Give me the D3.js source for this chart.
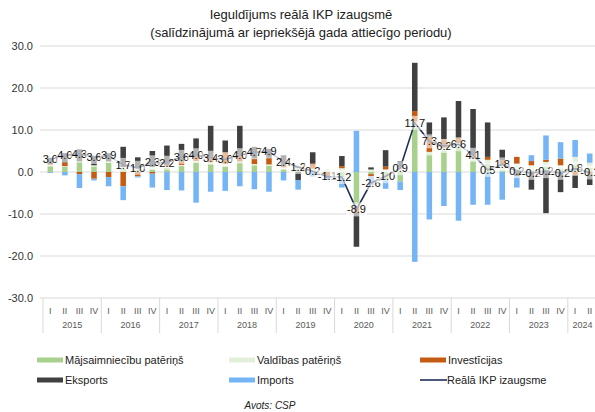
<!DOCTYPE html>
<meta charset="utf-8">
<style>
body { margin: 0; background: #fff; }
svg { font-family: "Liberation Sans", Arial, sans-serif; }
.grid line { stroke: #d9d9d9; stroke-width: 1px; }
.ylab { font-size: 11px; fill: #333; }
.qlab, .yearlab { font-size: 9px; fill: #595959; }
.gdp-label { font-size: 11px; fill: #111; }
.legend text { font-size: 11px; fill: #222; }
</style>
<body>
<script src="https://d3js.org/d3.v7.min.js"></script>
<script>

// data (contributions, percentage points)
var years = ["2015", "2016", "2017", "2018", "2019", "2020", "2021", "2022", "2023", "2024"];
var quarterNames = ["I", "II", "III", "IV"];

var household = [1.4, 1.2, 2.3, 1.3,  2.2, 0.8, 0.6, 0.6,  1.0, 1.4, 2.2, 2.0,  1.3, 2.1, 1.6, 1.5,
                 0.6, 0.6, 0.3, 0.2, -1.3, -7.8, -0.5, -2.0, -2.3, 10.6, 4.0, 5.0,  6.0, 2.8, 2.0, 0.6,
                 0.8, 0.6, 1.2, 0.8,  1.8, 1.0];
var government = [0.3, 0.2, 0.3, 0.3,  0.3, 0.4, 0.3, 0.6,  0.4, 0.3, 0.4, 0.3,  0.6, 0.4, 0.3, 0.3,
                  0.5, 0.3, 0.5, 0.4,  0.9, -0.3, 0.6, 0.5,  0.8, 1.4, 0.8, 0.8,  0.9, 0.5, 0.9, 1.0,
                  1.2, 1.0, 1.2, 0.8,  1.8, 1.2];
var investment = [0.2, 0.9, -0.5, -1.6, -1.2, -3.4, -1.0, -0.4,  0.3, 0.8, 1.4, 1.2,  2.8, 1.8, 1.3, 1.6,
                  0.4, 0.4, 1.2, -0.8,  0.5, -1.6, -0.6, 0.8,  0.3, 2.5, 3.6, 2.0,  1.2, 0.7, 0.7, 1.2,
                  1.6, 1.0, 0.5, 1.6, -0.8, -0.6];
var exportsC = [1.5, 2.2, 2.8, 2.0,  2.0, 4.8, 2.6, 3.8,  4.6, 4.2, 4.0, 7.5,  2.8, 6.7, 2.8, 2.1,
                2.5, -1.9, 2.7, -0.6,  2.4, -8.1, 0.5, 3.9,  1.5, 11.5, 3.4, 5.2,  8.8, 11.0, 8.2, 2.5,
                -1.0, -4.2, -9.8, -4.8, -3.0, -2.5];
var importsC = [-0.2, -0.8, -3.3, -0.4, -2.2, -3.3, -0.3, -3.3, -4.3, -4.4, -7.3, -4.7, -4.5, -3.4, -4.1, -4.7,
                -2.0, -2.3, -1.1, -0.5, -2.4, 9.8, -2.0, -2.0, -2.0, -21.4, -11.3, -8.1, -11.6, -7.8, -7.8, -6.6,
                -2.7, 1.4, 5.8, 3.9,  4.0, 2.2];
var gdpGrowth = [3.0, 4.0, 4.3, 3.6,  3.9, 1.7, 1.0, 2.3,  2.2, 3.6, 4.0, 3.4,  3.0, 4.0, 4.7, 4.9,
                 2.4, 1.2, 0.2, -1.1, -1.2, -8.9, -2.6, -1.0,  0.9, 11.7, 7.3, 6.2,  6.6, 4.1, 0.5, 1.8,
                 0.2, -0.2, 0.2, -0.2,  0.8, -0.1];

var seriesKeys = ["household", "government", "investment", "exports", "imports"];
var seriesNames = ["Mājsaimniecību patēriņš", "Valdības patēriņš", "Investīcijas", "Eksports", "Imports"];
var seriesColors = ["#a9d18e", "#e2efda", "#c55a11", "#404040", "#75b5f5"];
var lineName = "Reālā IKP izaugsme";
var lineColor = "#1f2d5c";
var yTicks = [30, 20, 10, 0, -10, -20, -30];

// build the period keys and the table d3.stack wants
var periods = [];
years.forEach(function(y) {
  quarterNames.forEach(function(q) {
    if (periods.length < gdpGrowth.length) periods.push({ year: y, q: q, key: y + "-" + q });
  });
});
var table = periods.map(function(p, i) {
  return { key: p.key, household: household[i], government: government[i],
           investment: investment[i], exports: exportsC[i], imports: importsC[i] };
});

var W = 595, H = 412;
var svg = d3.select("body").append("svg").attr("width", W).attr("height", H);

var x = d3.scaleBand().domain(periods.map(function(p) { return p.key; }))
    .range([43, 597]).paddingInner(0.62).paddingOuter(0.31);
var y = d3.scaleLinear().domain([-30, 30]).range([298, 46]);
var color = d3.scaleOrdinal().domain(seriesKeys).range(seriesColors);

// title
var title = svg.append("text").attr("text-anchor", "middle").style("font-size", "13px").style("fill", "#222");
title.append("tspan").attr("x", 301).attr("y", 19).text("Ieguldījums reālā IKP izaugsmē");
title.append("tspan").attr("x", 301).attr("y", 37).text("(salīdzinājumā ar iepriekšējā gada attiecīgo periodu)");

// gridlines + y labels
svg.append("g").attr("class", "grid").selectAll("line").data(yTicks).join("line")
    .attr("x1", 40).attr("x2", W).attr("y1", function(d) { return y(d); }).attr("y2", function(d) { return y(d); });
svg.append("g").selectAll("text").data(yTicks).join("text")
    .attr("class", "ylab").attr("x", 33).attr("y", function(d) { return y(d); })
    .attr("dy", "0.35em").attr("text-anchor", "end").text(function(d) { return d.toFixed(1); });

// stacked bars
var stacked = d3.stack().keys(seriesKeys).offset(d3.stackOffsetDiverging)(table);
svg.append("g").selectAll("g").data(stacked).join("g")
    .attr("fill", function(s) { return color(s.key); })
  .selectAll("rect").data(function(s) { return s; }).join("rect")
    .attr("x", function(d) { return x(d.data.key); })
    .attr("width", x.bandwidth())
    .attr("y", function(d) { return y(Math.max(d[0], d[1])); })
    .attr("height", function(d) { return Math.abs(y(d[0]) - y(d[1])); });

// category axis: quarters, years, separators
var half = (x.step() - x.bandwidth()) / 2;
var axisG = svg.append("g");
axisG.selectAll("text.qlab").data(periods).join("text")
    .attr("class", "qlab").attr("text-anchor", "middle")
    .attr("x", function(p) { return x(p.key) + x.bandwidth() / 2; })
    .attr("y", 314).text(function(p) { return p.q; });
var yearGroups = d3.groups(periods, function(p) { return p.year; });
axisG.selectAll("text.yearlab").data(yearGroups).join("text")
    .attr("class", "yearlab").attr("text-anchor", "middle")
    .attr("x", function(g) {
      var a = x(g[1][0].key) - half, b = x(g[1][g[1].length - 1].key) + x.bandwidth() + half;
      return (a + b) / 2;
    })
    .attr("y", 328).text(function(g) { return g[0]; });
axisG.selectAll("line").data(yearGroups).join("line")
    .attr("x1", function(g) { return x(g[1][0].key) - half; })
    .attr("x2", function(g) { return x(g[1][0].key) - half; })
    .attr("y1", 298).attr("y2", 333).attr("stroke", "#d9d9d9");

// GDP line
var cx = function(d, i) { return x(periods[i].key) + x.bandwidth() / 2; };
svg.append("path").datum(gdpGrowth)
    .attr("fill", "none").attr("stroke", lineColor).attr("stroke-width", 1.6)
    .attr("d", d3.line().x(cx).y(function(d) { return y(d); }));

// data labels with semi-transparent boxes
var lab = svg.append("g").selectAll("g").data(gdpGrowth).join("g")
    .attr("transform", function(d, i) { return "translate(" + cx(d, i) + "," + y(d) + ")"; });
lab.append("rect").attr("fill", "#fff").attr("opacity", 0.6);
lab.append("text").attr("class", "gdp-label").attr("text-anchor", "middle").attr("dy", "0.35em")
    .text(function(d) { return d.toFixed(1); });
lab.each(function() {
  var g = d3.select(this), w = g.select("text").node().getComputedTextLength();
  g.select("rect").attr("x", -w / 2 - 1).attr("y", -7).attr("width", w + 2).attr("height", 14);
});

// legend
var legendItems = seriesKeys.map(function(k, i) { return { name: seriesNames[i], color: seriesColors[i], type: "bar" }; });
legendItems.push({ name: lineName, color: lineColor, type: "line" });
var colX = [37, 229, 420], rowY = [360, 380];
var leg = svg.append("g").attr("class", "legend").selectAll("g").data(legendItems).join("g")
    .attr("transform", function(d, i) { return "translate(" + colX[i % 3] + "," + rowY[Math.floor(i / 3)] + ")"; });
leg.filter(function(d) { return d.type === "bar"; }).append("rect")
    .attr("x", 0).attr("y", -2.5).attr("width", 26).attr("height", 5).attr("fill", function(d) { return d.color; });
leg.filter(function(d) { return d.type === "line"; }).append("line")
    .attr("x1", 0).attr("x2", 27).attr("stroke", function(d) { return d.color; }).attr("stroke-width", 1.6);
leg.append("text").attr("x", function(d) { return d.type === "line" ? 27 : 28; }).attr("dy", "0.35em")
    .text(function(d) { return d.name; });

svg.append("text").attr("x", 270).attr("y", 409).attr("text-anchor", "middle")
    .style("font-size", "10px").style("font-style", "italic").style("fill", "#222").text("Avots: CSP");

</script>
</body>
